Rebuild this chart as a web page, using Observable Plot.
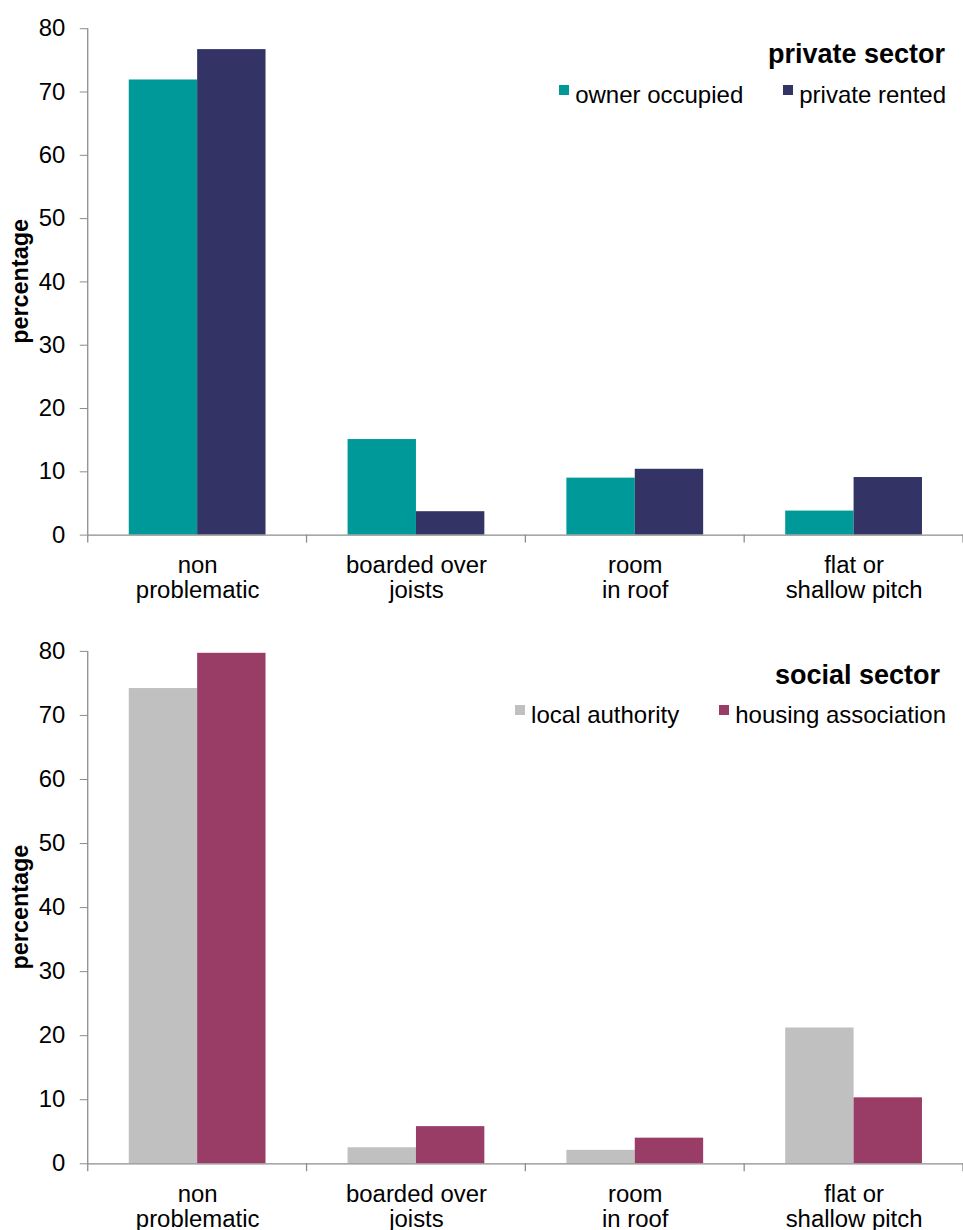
<!DOCTYPE html>
<html>
<head>
<meta charset="utf-8">
<script src="https://cdn.jsdelivr.net/npm/d3@7"></script>
<script src="https://cdn.jsdelivr.net/npm/@observablehq/plot@0.6"></script>
<style>
  html, body { margin: 0; padding: 0; background: #fff; }
  #root { width: 963px; height: 1230px; overflow: hidden; position: relative; font-family: "Liberation Sans", Arial, sans-serif; color: #000; }
  .panel { position: relative; width: 963px; height: 615px; overflow: visible; }
  .panel svg { display: block; overflow: visible; }
  .title { position: absolute; font-weight: bold; font-size: 27px; line-height: 27px; white-space: nowrap; }
  .legend { position: absolute; display: flex; align-items: flex-start; font-size: 24px; line-height: 24px; white-space: nowrap; }
  .legend .item { display: flex; align-items: flex-start; margin-left: 40px; }
  .legend .item:first-child { margin-left: 0; }
  .legend .sw { width: 10px; height: 10px; margin-top: 2px; margin-right: 6px; }
</style>
</head>
<body>
<div id="root"></div>
<script>
// ---- data ----
const categories = ["non\nproblematic", "boarded over\njoists", "room\nin roof", "flat or\nshallow pitch"];
const yTicks = [0, 10, 20, 30, 40, 50, 60, 70, 80];

const privateTitle = "private sector";
const privateSeries = ["owner occupied", "private rented"];
const ownerOccupied = [71.9, 15.1, 9.0, 3.8];
const privateRented = [76.7, 3.7, 10.4, 9.1];
const privateColors = ["#009999", "#333366"];

const socialTitle = "social sector";
const socialSeries = ["local authority", "housing association"];
const localAuthority = [74.2, 2.5, 2.1, 21.2];
const housingAssociation = [79.7, 5.8, 4.0, 10.3];
const socialColors = ["#c0c0c0", "#993d66"];

const axisGrey = "#8c8c8c";

function makePanel({title, series, values, colors, marginTop, marginBottom, titleTop, titleRight, legendTop, legendRight}) {
  const data = categories.flatMap((c, i) => series.map((s, j) => ({category: c, series: s, value: values[j][i]})));
  const chart = Plot.plot({
    width: 966,
    height: 615,
    marginLeft: 88,
    marginRight: 0,
    marginTop,
    marginBottom,
    style: {fontFamily: "'Liberation Sans', Arial, sans-serif", fontSize: "24px", color: "#000", background: "transparent", overflow: "visible"},
    fx: {domain: categories, padding: 0, round: false, label: null},
    x: {domain: series, paddingInner: 0, paddingOuter: 0.6, round: false, axis: null},
    y: {domain: [0, 80], label: null},
    color: {domain: series, range: colors},
    marks: [
      Plot.barY(data, {fx: "category", x: "series", y: "value", fill: "series"}),
      Plot.ruleY([0], {stroke: axisGrey, strokeWidth: 1.3}),
      Plot.axisY({ticks: yTicks, tickSize: 8, tickPadding: 15, stroke: axisGrey, fill: "#000", label: null}),
      Plot.axisFx({anchor: "bottom", tickSize: 0, tickPadding: 20, lineHeight: 1.05, fill: "#000", label: null})
    ]
  });
  const svgNode = chart.tagName.toLowerCase() === "svg" ? chart : chart.querySelector("svg");
  const svg = d3.select(svgNode);
  const fxS = chart.scale("fx"), yS = chart.scale("y");
  const x0 = fxS.apply(categories[0]);
  const y0 = yS.apply(0), yTop = yS.apply(80);
  const bounds = categories.map(c => fxS.apply(c)).concat([fxS.apply(categories[categories.length - 1]) + fxS.bandwidth]);
  const g = svg.append("g").attr("stroke", axisGrey).attr("stroke-width", 1.3);
  g.append("line").attr("x1", x0).attr("x2", x0).attr("y1", y0).attr("y2", yTop);
  bounds.forEach(b => g.append("line").attr("x1", b).attr("x2", b).attr("y1", y0).attr("y2", y0 + 8));
  svg.append("text")
    .attr("transform", `translate(${x0 - 60},${(y0 + yTop) / 2}) rotate(-90)`)
    .attr("text-anchor", "middle")
    .attr("font-weight", "bold")
    .attr("font-size", 23.5)
    .attr("fill", "#000")
    .text("percentage");

  const panel = document.createElement("div");
  panel.className = "panel";
  panel.appendChild(chart);
  const t = document.createElement("div");
  t.className = "title";
  t.style.top = titleTop + "px";
  t.style.right = titleRight + "px";
  t.textContent = title;
  panel.appendChild(t);
  const lg = document.createElement("div");
  lg.className = "legend";
  lg.style.top = legendTop + "px";
  lg.style.right = legendRight + "px";
  series.forEach((s, j) => {
    const it = document.createElement("div");
    it.className = "item";
    const sw = document.createElement("div");
    sw.className = "sw";
    sw.style.background = colors[j];
    const lab = document.createElement("span");
    lab.textContent = s;
    it.appendChild(sw);
    it.appendChild(lab);
    lg.appendChild(it);
  });
  panel.appendChild(lg);
  return panel;
}

const root = document.getElementById("root");
root.appendChild(makePanel({
  title: privateTitle, series: privateSeries, values: [ownerOccupied, privateRented], colors: privateColors,
  marginTop: 28.3, marginBottom: 78.7, titleTop: 41, titleRight: 18, legendTop: 83, legendRight: 17
}));
root.appendChild(makePanel({
  title: socialTitle, series: socialSeries, values: [localAuthority, housingAssociation], colors: socialColors,
  marginTop: 36, marginBottom: 65, titleTop: 47, titleRight: 23, legendTop: 88, legendRight: 17
}));
</script>
</body>
</html>
